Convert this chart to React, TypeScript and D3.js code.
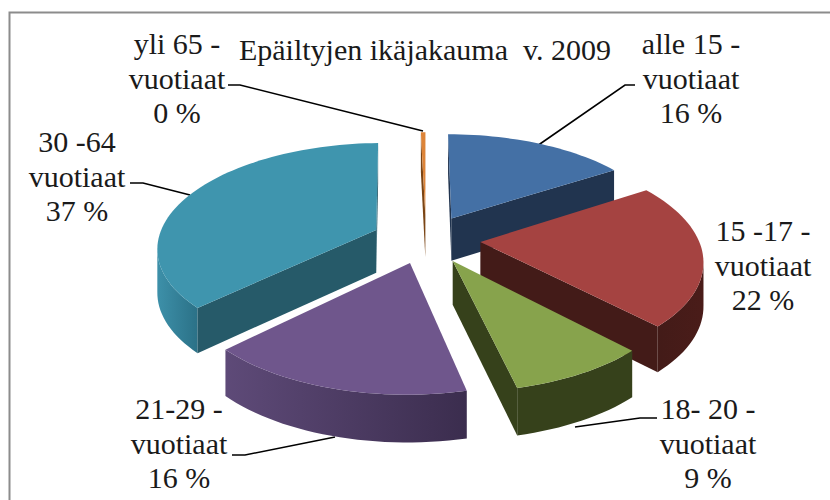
import React from "react";
import * as d3 from "d3";

const categories = ["alle 15 -", "15 -17 -", "18- 20 -", "21-29 -", "30 -64", "yli 65 -"];
const shares = [16, 22, 8.6, 16.4, 37, 0.4];
const shareLabels = ["16 %", "22 %", "9 %", "16 %", "37 %", "0 %"];
const unit = "vuotiaat";
const chartTitle = "Epäiltyjen ikäjakauma  v. 2009";

const topColors = ["#4470a5", "#a54341", "#87a34c", "#6f568c", "#3f95ae", "#dd8438"];
const cutColors = ["#21344f", "#431b18", "#36411b", "#3a2c4c", "#265a69", "#7a4515"];
const rimStart = ["#21344f", "#4a1c19", "#36411b", "#3b2d4e", "#2b7187", "#7a4515"];
const rimEnd = ["#21344f", "#431b18", "#36411b", "#5e4a78", "#3d90a9", "#7a4515"];

const labelCenters: [number, number][] = [[691, 45], [763, 232], [708, 410], [179, 410], [77, 143], [177, 45]];
const leaders = [
  [[635, 85], [625, 85], [537, 146]],
  [],
  [[657, 418], [640, 418], [575, 427]],
  [[232, 455], [245, 455], [335, 437]],
  [[130, 183], [143, 183], [190, 195]],
  [[228, 85], [240, 85], [423, 131]],
];

const cx = 426, cy = 239, A = 218, B = 103, k = 0.1545, explodeX = 0.25, explodeV = 0.235, depth = 43;

function project(u: number, v: number) {
  const s = 1 / (1 - k * v);
  return { x: cx + A * u * s, y: cy + B * v * s, s };
}
const drop = (p: { y: number; s: number }) => p.y + depth * Math.sqrt(p.s);

const arcs = d3.pie<number>().sort(null).startAngle(0).endAngle(2 * Math.PI)(shares);
const pathOf = d3.line<[number, number]>();

function slicePieces(i: number) {
  const a = arcs[i];
  const mid = (a.startAngle + a.endAngle) / 2;
  const ou = explodeX * Math.sin(mid), ov = -explodeV * Math.cos(mid);
  const apex = project(ou, ov);
  const steps = Math.max(2, Math.ceil(((a.endAngle - a.startAngle) * 180) / Math.PI / 2));
  const angle = d3.scaleLinear().domain([0, steps]).range([a.startAngle, a.endAngle]);
  const rim = d3.range(steps + 1).map((t) => project(ou + Math.sin(angle(t)), ov - Math.cos(angle(t))));
  const outline = [apex, ...rim];
  const walls: { d: string; fill: string; key: string }[] = [];
  const wall = (p: any, q: any, fill: string, key: string) => {
    if (q.x >= p.x) return;
    walls.push({
      key,
      fill,
      d: (pathOf([[p.x, p.y], [q.x, q.y], [q.x, drop(q)], [p.x, drop(p)]]) as string) + "Z",
    });
  };
  wall(apex, rim[0], cutColors[i], "a");
  wall(rim[rim.length - 1], apex, cutColors[i], "b");
  // Outer rim: the run of rim points that travel leftwards, filled as one path with a gradient.
  const visible: typeof rim = [];
  for (let t = 0; t < rim.length; t++) {
    const leftward = (t < rim.length - 1 && rim[t + 1].x < rim[t].x) || (t > 0 && rim[t].x < rim[t - 1].x);
    if (leftward) visible.push(rim[t]);
  }
  let rimPath = "";
  let x1 = 0, x2 = 0;
  if (visible.length > 1) {
    const loop = [
      ...visible.map((p) => [p.x, p.y] as [number, number]),
      ...visible.slice().reverse().map((p) => [p.x, drop(p)] as [number, number]),
    ];
    rimPath = (pathOf(loop) as string) + "Z";
    x1 = visible[0].x;
    x2 = visible[visible.length - 1].x;
  }
  const top = (pathOf(outline.map((p) => [p.x, p.y])) as string) + "Z";
  return { walls, top, rimPath, x1, x2, order: -Math.cos(mid) };
}

const pieces = arcs.map((_, i) => ({ i, ...slicePieces(i) })).sort((a, b) => a.order - b.order);
const fontFamily = "'Liberation Serif', serif";
const frame = "#8c8c8c";

export default function App() {
  return (
    <svg width={830} height={500} style={{ position: "fixed", left: 0, top: 0, background: "#fff" }}>
      <defs>
        {pieces.map((p) => (
          <linearGradient key={p.i} id={"rim" + p.i} gradientUnits="userSpaceOnUse" x1={p.x1} x2={p.x2} y1={0} y2={0}>
            <stop offset="0" stopColor={rimStart[p.i]} />
            <stop offset="1" stopColor={rimEnd[p.i]} />
          </linearGradient>
        ))}
      </defs>
      <path d="M9.5 500V12.5H830" fill="none" stroke={frame} strokeWidth={2} />
      <text x={425} y={60} textAnchor="middle" fontFamily={fontFamily} fontSize={30} fill="#1a1a1a" xmlSpace="preserve">{chartTitle}</text>
      {leaders.map((l, i) =>
        l.length ? <path key={i} d={pathOf(l as [number, number][]) as string} fill="none" stroke="#000" strokeWidth={1.6} /> : null
      )}
      {pieces.map((p) => (
        <g key={p.i}>
          {p.rimPath ? <path d={p.rimPath} fill={`url(#rim${p.i})`} /> : null}
          {p.walls.map((w) => (
            <path key={w.key} d={w.d} fill={w.fill} />
          ))}
          <path d={p.top} fill={topColors[p.i]} />
        </g>
      ))}
      {categories.map((c, i) => (
        <text key={c} textAnchor="middle" fontFamily={fontFamily} fontSize={30} fill="#1a1a1a">
          <tspan x={labelCenters[i][0]} y={labelCenters[i][1] + 9}>{c}</tspan>
          <tspan x={labelCenters[i][0]} y={labelCenters[i][1] + 44}>{unit}</tspan>
          <tspan x={labelCenters[i][0]} y={labelCenters[i][1] + 78}>{shareLabels[i]}</tspan>
        </text>
      ))}
    </svg>
  );
}
